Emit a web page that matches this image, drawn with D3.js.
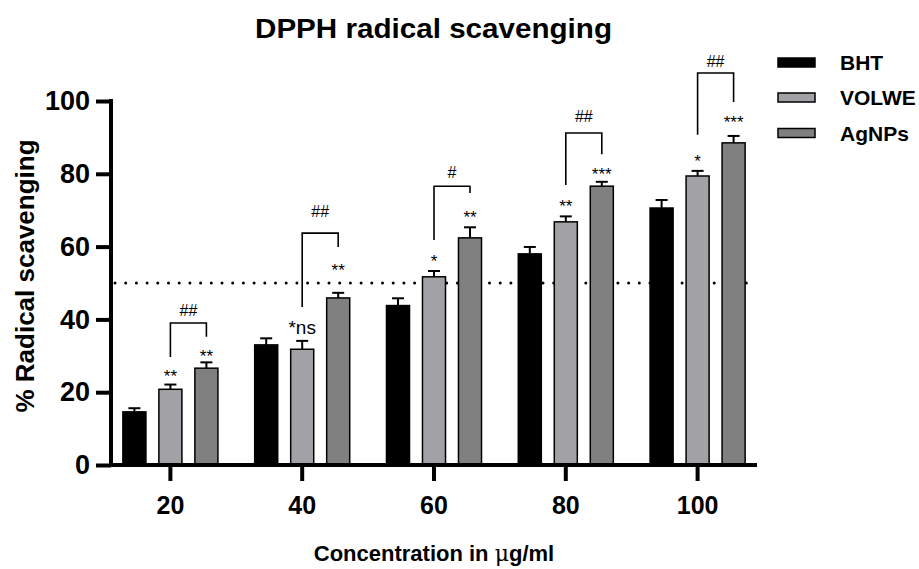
<!DOCTYPE html>
<html><head><meta charset="utf-8">
<script src="https://cdn.jsdelivr.net/npm/d3@7"></script>
<style>
body{margin:0;background:#fff}
svg{display:block}
text{font-family:"Liberation Sans",Arial,Helvetica,sans-serif;fill:#000}
</style>
</head><body>
<svg id="chart" width="919" height="569"></svg>
<script>
// ---- data ----
const categories = ["20", "40", "60", "80", "100"];
const seriesNames = ["BHT", "VOLWE", "AgNPs"];
const bhtValues = [14.6, 33.0, 43.8, 58.0, 70.6];
const bhtErrors = [1.0, 1.8, 2.0, 1.9, 2.2];
const volweValues = [20.8, 31.8, 51.7, 66.8, 79.4];
const volweErrors = [1.3, 2.3, 1.6, 1.5, 1.4];
const agnpsValues = [26.6, 45.9, 62.4, 76.6, 88.5];
const agnpsErrors = [1.6, 1.4, 2.9, 1.2, 1.9];
const volweSignif = ["**", "*ns", "*", "**", "*"];
const volweSignifValues = [25.5, 37.6, 56.9, 72.0, 84.6];
const agnpsSignif = ["**", "**", "**", "***", "***"];
const agnpsSignifValues = [30.8, 54.4, 69.2, 81.0, 95.1];
const bracketTop = [39.0, 63.7, 76.6, 91.2, 107.7];
const bracketLeftEnd = [29.7, 43.4, 61.8, 76.9, 90.7];
const bracketRightEnd = [35.2, 59.9, 74.7, 85.4, 99.7];
const bracketLabels = ["##", "##", "#", "##", "##"];
const bracketLabelValues = [42.6, 69.8, 80.5, 95.9, 111.0];
const yTicks = [0, 20, 40, 60, 80, 100];
const thresholdValue = 50;
const seriesColors = ["#000000", "#a2a2a6", "#808080"];

const seriesData = [
  {name: "BHT", values: bhtValues, errors: bhtErrors, signif: null, signifAt: null},
  {name: "VOLWE", values: volweValues, errors: volweErrors, signif: volweSignif, signifAt: volweSignifValues},
  {name: "AgNPs", values: agnpsValues, errors: agnpsErrors, signif: agnpsSignif, signifAt: agnpsSignifValues}
];

// ---- layout ----
const svg = d3.select("#chart");
const axisLeftX = 111, axisRightX = 757;
const y = d3.scaleLinear().domain([0, 100]).range([465, 101]);
const x = d3.scaleBand().domain(categories).range([104.5, 763.5]);
const xs = d3.scaleBand().domain(seriesNames).range([-54, 54]).paddingInner(0.36).paddingOuter(0.18);
const color = d3.scaleOrdinal().domain(seriesNames).range(seriesColors);
const cx = c => x(c) + x.bandwidth() / 2;
const barCx = (c, s) => cx(c) + xs(s) + xs.bandwidth() / 2;

// title
svg.append("text").attr("x", 433.5).attr("y", 38).attr("text-anchor", "middle")
  .attr("textLength", 357).attr("lengthAdjust", "spacingAndGlyphs")
  .style("font-size", "27px").style("font-weight", "bold").text("DPPH radical scavenging");

// threshold dotted line
svg.append("line").attr("x1", axisLeftX + 4).attr("x2", axisRightX - 8)
  .attr("y1", y(thresholdValue)).attr("y2", y(thresholdValue))
  .attr("stroke", "#000").attr("stroke-width", 3).attr("stroke-linecap", "round")
  .attr("stroke-dasharray", "0,10.7");

// bars
const groups = svg.append("g").selectAll("g").data(seriesData).join("g");
groups.each(function(s) {
  const g = d3.select(this);
  g.selectAll("line.err").data(categories).join("line").attr("class", "err")
    .attr("x1", (c) => barCx(c, s.name)).attr("x2", (c) => barCx(c, s.name))
    .attr("y1", (c, i) => y(s.values[i])).attr("y2", (c, i) => y(s.values[i] + s.errors[i]))
    .attr("stroke", "#000").attr("stroke-width", 2);
  g.selectAll("line.cap").data(categories).join("line").attr("class", "cap")
    .attr("x1", (c) => barCx(c, s.name) - 6).attr("x2", (c) => barCx(c, s.name) + 6)
    .attr("y1", (c, i) => y(s.values[i] + s.errors[i])).attr("y2", (c, i) => y(s.values[i] + s.errors[i]))
    .attr("stroke", "#000").attr("stroke-width", 2);
  g.selectAll("rect").data(categories).join("rect")
    .attr("x", c => cx(c) + xs(s.name)).attr("width", xs.bandwidth())
    .attr("y", (c, i) => y(s.values[i])).attr("height", (c, i) => y(0) - y(s.values[i]))
    .attr("fill", color(s.name)).attr("stroke", "#000").attr("stroke-width", 1.5);
  if (s.signif) {
    g.selectAll("text").data(categories).join("text")
      .attr("x", c => barCx(c, s.name))
      .attr("y", (c, i) => y(s.signifAt[i]) + (s.signif[i] === "*ns" ? 6 : 9.5))
      .attr("text-anchor", "middle")
      .style("font-size", (c, i) => s.signif[i] === "*ns" ? "19px" : "17px")
      .text((c, i) => s.signif[i]);
  }
});

// brackets
const br = svg.append("g");
categories.forEach((c, i) => {
  const xl = barCx(c, "VOLWE"), xr = barCx(c, "AgNPs");
  br.append("path")
    .attr("d", `M${xl},${y(bracketLeftEnd[i])}V${y(bracketTop[i])}H${xr}V${y(bracketRightEnd[i])}`)
    .attr("fill", "none").attr("stroke", "#000").attr("stroke-width", 1.6);
  br.append("text").attr("x", (xl + xr) / 2).attr("y", y(bracketLabelValues[i]))
    .attr("dy", "0.35em").attr("text-anchor", "middle").style("font-size", "16px")
    .text(bracketLabels[i]);
});

// y axis
const yAxis = svg.append("g").attr("transform", `translate(${axisLeftX},0)`)
  .call(d3.axisLeft(y).tickValues(yTicks).tickSize(15).tickSizeOuter(0).tickPadding(6));
yAxis.select(".domain").attr("stroke-width", 4).attr("d", `M0,${y(0) + 2}V${y(100) - 2}`);
yAxis.selectAll(".tick line").attr("stroke-width", 4);
yAxis.selectAll(".tick text").style("font-size", "27px").style("font-weight", "bold")
  .style("font-family", '"Liberation Sans",Arial,sans-serif').attr("fill", "#000");

// x axis
const xAxis = svg.append("g").attr("transform", `translate(0,${y(0)})`)
  .call(d3.axisBottom(x).tickSize(16).tickSizeOuter(0).tickPadding(15));
xAxis.select(".domain").attr("stroke-width", 4).attr("d", `M${axisLeftX - 2},0H${axisRightX}`);
xAxis.selectAll(".tick line").attr("stroke-width", 4);
xAxis.selectAll(".tick text").style("font-size", "25px").style("font-weight", "bold")
  .style("font-family", '"Liberation Sans",Arial,sans-serif').attr("fill", "#000");

// axis titles
svg.append("text").attr("transform", "translate(34,276) rotate(-90)").attr("text-anchor", "middle")
  .style("font-size", "26px").style("font-weight", "bold").text("% Radical scavenging");
const xt = svg.append("text").attr("x", 434).attr("y", 561).attr("text-anchor", "middle")
  .style("font-size", "22px").style("font-weight", "bold");
xt.append("tspan").text("Concentration in ");
xt.append("tspan").style("font-weight", "normal").style("font-family", '"DejaVu Serif",serif').text("μ");
xt.append("tspan").text("g/ml");

// legend
const legendY = [62.5, 97.5, 133];
const lg = svg.append("g").selectAll("g").data(seriesNames).join("g")
  .attr("transform", (d, i) => `translate(778,${legendY[i]})`);
lg.append("rect").attr("x", 0).attr("y", -4.5).attr("width", 37).attr("height", 9)
  .attr("fill", d => color(d)).attr("stroke", "#000").attr("stroke-width", 1.5);
lg.append("text").attr("x", 62).attr("dy", "0.36em").style("font-size", "21px")
  .style("font-weight", "bold").text(d => d);
</script>
</body></html>
